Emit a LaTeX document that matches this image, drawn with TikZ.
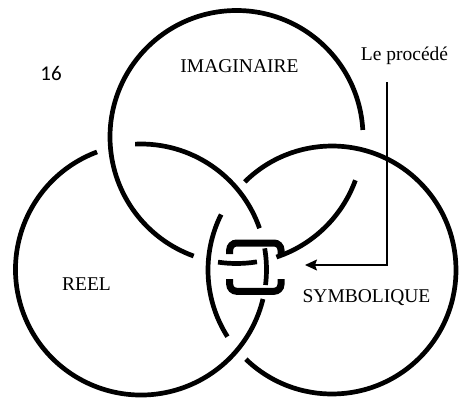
\documentclass[tikz,border=0pt]{standalone}
\usepackage{fontspec}
\setmainfont{Liberation Serif}
\newfontfamily\numfont{Carlito}
\usetikzlibrary{arrows.meta}
\begin{document}
\begin{tikzpicture}[x=1pt,y=1pt,
  ring/.style={line width=4.7pt},
  clasp/.style={line width=7pt, rounded corners=7pt},
  lbl/.style={font=\fontsize{19.5}{22}\selectfont, anchor=base, inner sep=0pt},
  pointer/.style={line width=1.4pt, -{Stealth[length=12pt,width=11pt,inset=2pt]}}]
\useasboundingbox (0,0) rectangle (460,400);
% centres
\coordinate (cI) at (236.5,263);
\coordinate (cR) at (141,130.5);
\coordinate (cS) at (332,130);
% IMAGINAIRE ring
\draw[ring] (cI) ++(3.2:126.5) arc[start angle=3.2, end angle=250.2, radius=126.5];
\draw[ring] (cI) ++(-71.6:126.5) arc[start angle=-71.6, end angle=-20, radius=126.5];
\draw[ring] (cI) ++(261.6:126.5) arc[start angle=261.6, end angle=279.3, radius=126.5];
% REEL ring
\draw[ring] (cR) ++(110.5:125.5) arc[start angle=110.5, end angle=346.4, radius=125.5];
\draw[ring] (cR) ++(19.2:125.5) arc[start angle=19.2, end angle=92.7, radius=125.5];
\draw[ring] (cR) ++(-7.1:125.5) arc[start angle=-7.1, end angle=9.7, radius=125.5];
% SYMBOLIQUE ring
\draw[ring] (cS) ++(153.4:124) arc[start angle=153.4, end angle=212.5, radius=124];
\draw[ring] (cS) ++(226:124) arc[start angle=226, end angle=494.7, radius=124];
% clasp
\draw[clasp] (229.7,146) -- (229.7,157) -- (281,157) -- (281,146);
\draw[clasp] (229.7,121) -- (229.7,108.7) -- (281,108.7) -- (281,121);
% labels
\node[lbl] (imag) at (239.5,328) {IMAGINAIRE};
\node[lbl] (reel) at (86.5,110) {REEL};
\node[lbl] (symb) at (366.5,98) {SYMBOLIQUE};
\node[lbl] (proc) at (404.5,340) {Le procédé};
\node[anchor=base, inner sep=0pt, font=\numfont\fontsize{21}{24}\selectfont] (num) at (51,320) {16};
% pointer
\coordinate (procstart) at (387,318);
\coordinate (clasptip) at (305,135);
\draw[pointer] (procstart) |- (clasptip);
\end{tikzpicture}
\end{document}
